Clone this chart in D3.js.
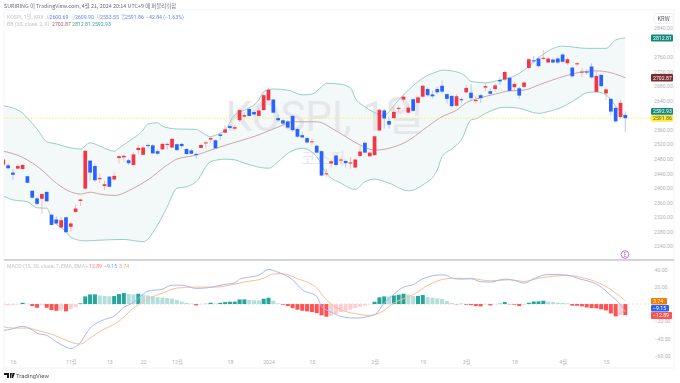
<!DOCTYPE html>
<html>
<head>
<meta charset="utf-8">
<script src="https://cdn.jsdelivr.net/npm/d3@7"></script>
<style>
  html, body { margin: 0; padding: 0; background: #fff; }
  svg { display: block; font-family: "Noto Sans CJK KR", "Noto Sans", sans-serif; filter: blur(0.3px); }
</style>
</head>
<body>
<div id="chart"></div>
<script>
const opens = [2464,2462,2442,2453,2452,2432,2392,2371,2370,2389,2326,2313,2291,2319,2293,2334,2364,2398,2475,2460,2424,2405,2431,2423,2482,2484,2476,2463,2504,2491,2518,2517,2501,2506,2519,2511,2520,2521,2507,2503,2493,2510,2524,2533,2531,2547,2552,
  2570,2563,2586,2596,2617,2609,2598,2614,2641,2643,2592,2586,2583,2598,2562,2545,2537,2526,2516,2501,2438,2467,2489,2476,2474,2467,2456,2488,2524,2487,2490,2558,2613,2584,2592,2619,2643,2607,2644,2634,2651,2672,2657,2672,2681,2658,2653,
  2626,2644,2663,2662,2639,2655,2676,2666,2672,2697,2698,2703,2677,2674,2678,2730,2751,2756,2756,2745,2753,2756,2767,2743,2731,2740,2718,2720,2734,2664,2711,2660,2645,2620,2595,2600.69];
const highs = [2478,2467,2453,2466,2466,2433,2393,2376,2386,2390,2328,2322,2319,2320,2307,2353,2369,2504,2476,2467,2440,2420,2432,2442,2490,2492,2481,2498,2518,2515,2522,2520,2506,2524,2525,2537,2522,2524,2509,2507,2499,2522,2529,2541,2533,2552,2572,
  2573,2573,2616,2609,2621,2614,2621,2660,2676,2645,2603,2589,2586,2600,2566,2554,2541,2536,2518,2503,2453,2478,2491,2484,2478,2485,2480,2515,2528,2500,2544,2617,2618,2596,2628,2625,2658,2632,2646,2651,2683,2676,2667,2678,2696,2660,2655,
  2658,2649,2683,2685,2653,2658,2688,2674,2688,2704,2722,2706,2692,2678,2694,2756,2763,2761,2779,2759,2756,2761,2770,2759,2734,2746,2729,2726,2743,2723,2713,2676,2647,2625,2642,2609.9];
const lows = [2464,2451,2421,2451,2450,2413,2370,2353,2328,2362,2297,2300,2289,2276,2279,2332,2350,2394,2420,2417,2412,2394,2402,2421,2467,2472,2463,2462,2493,2490,2509,2494,2491,2504,2504,2510,2502,2511,2492,2493,2481,2509,2511,2524,2508,2531,2550,
  2561,2559,2582,2594,2596,2600,2596,2612,2639,2605,2582,2574,2563,2554,2538,2536,2522,2518,2495,2432,2430,2456,2461,2465,2456,2453,2454,2486,2495,2485,2488,2556,2563,2563,2590,2609,2634,2605,2610,2632,2649,2651,2646,2658,2660,2632,2623,
  2623,2633,2660,2642,2633,2634,2667,2656,2665,2683,2695,2665,2665,2645,2674,2726,2743,2731,2752,2743,2743,2741,2745,2738,2704,2734,2706,2711,2701,2662,2678,2642,2600,2581,2591,2553.55];
const closes = [2478,2454,2436,2460,2463,2414,2373,2356,2383,2363,2298,2302,2311,2278,2302,2343,2368,2502,2442,2421,2427,2410,2403,2433,2487,2488,2468,2492,2510,2511,2516,2495,2494,2521,2521,2535,2504,2515,2493,2494,2492,2518,2525,2537,2509,2543,2561,
  2565,2567,2614,2600,2598,2602,2613,2655,2670,2607,2586,2577,2566,2559,2541,2539,2525,2528,2497,2434,2440,2473,2463,2478,2468,2470,2478,2500,2497,2497,2542,2615,2591,2574,2609,2620,2651,2621,2612,2649,2681,2655,2652,2663,2665,2645,2625,
  2652,2643,2675,2647,2642,2647,2680,2659,2682,2693,2719,2667,2686,2654,2690,2754,2748,2735,2758,2756,2745,2745,2747,2754,2707,2743,2720,2718,2704,2708,2680,2671,2610,2583,2634,2591.86];

const upperDays = [0,4,5,7,9,11,13,16,18,20,23,24,27,29,30,32,33,36,40,41,43,44,46,48,50,53,54,56,59,62,64,66,67,70,72,73,75,77,79,80,82,84,87,90,91,93,96,97,100,103,106,108,110,112,116,121,125,127,129];
const upperBand = [2626,2606,2592,2562,2527,2521,2513,2507,2524,2515,2501,2510,2537,2559,2576,2579,2570,2562,2561,2554,2541,2545,2559,2601,2614,2642,2665,2672,2669,2656,2658,2678,2688,2685,2675,2647,2623,2607,2598,2610,2642,2669,2702,2720,2724,2722,2706,2693,2689,2697,2708,2724,2747,2768,2790,2784,2784,2807,2812.81];
const lowerDays = [0,2,5,7,9,10,13,14,17,20,25,29,32,34,36,38,40,43,46,48,50,55,57,59,62,65,67,70,73,75,77,80,84,87,90,91,93,95,97,98,100,104,107,111,113,116,119,121,123,125,127,129];
const lowerBand = [2378,2367,2362,2345,2344,2317,2279,2264,2254,2256,2258,2252,2298,2348,2399,2403,2417,2472,2479,2477,2468,2454,2472,2495,2509,2486,2440,2413,2396,2417,2424,2413,2392,2408,2449,2486,2507,2532,2587,2590,2605,2622,2619,2605,2610,2623,2646,2662,2664,2656,2625,2592.93];
const basisDays = [0,4,8,11,14,16,18,20,23,27,30,34,36,40,43,46,53,58,60,65,69,74,77,80,84,87,91,94,96,99,102,105,108,111,116,120,123,126,129];
const basisBand = [2501,2484,2449,2413,2389,2383,2388,2383,2379,2399,2422,2463,2479,2490,2504,2517,2546,2573,2582,2582,2557,2518,2504,2509,2530,2559,2596,2614,2634,2648,2658,2667,2669,2683,2706,2719,2722,2717,2702.87];

const histValues = [-1.5,-1.5,-1.2,-0.5,1.5,0.3,-2.3,-4.3,-1.2,-4.3,-7,-7.8,-7.6,-8.5,-5.8,-3.5,0.8,8.9,11.2,11.3,10,9.3,9,9.3,11.6,12.8,11.6,11.2,12,10.9,10,9.3,8,7.4,7,6.2,4.7,3,1.5,0.4,-1.5,-0.4,0.3,1.5,0.6,1.5,2.3,
  2.7,2.8,5.4,5.5,4.7,4.3,4.2,6.2,7.4,3.9,0.8,-0.8,-2.3,-4.7,-6.6,-7.8,-8.5,-9.3,-10.5,-13.2,-14.7,-13.6,-11.6,-9.3,-7.8,-6.6,-4.7,-3.1,-1.9,-0.4,2.7,7.8,8.9,8.8,10,10.9,12,10.9,9.3,9.4,10.5,8,7.4,6.6,5.8,3.5,1.2,
  -0.4,0.3,-0.8,-1.2,-2.3,-2.7,-0.4,-1.5,-0.4,0.4,2.3,-0.4,-0.8,-2.3,-0.8,1.5,3,3.1,3.9,2.7,2.3,1.5,1.2,0.8,-1.9,-2,-2.7,-3.9,-4.7,-5,-6.2,-7.4,-10.9,-14.3,-12.8,-12.89];

const macdDays = [0,1,4,6,7,9,11,13,14,15,16,17,18,19,21,23,25,27,29,30,33,35,37,40,43,46,48,49,51,53,55,57,60,62,65,66,68,70,73,77,79,81,83,85,87,91,92,93,95,97,99,101,104,106,108,110,113,117,119,124,126,128,129];
const macdValues = [-30.6,-30,-26,-30,-34,-36.4,-44,-50,-52,-49.5,-45,-36,-28,-23.5,-18,-14,-4,2,11.6,15,17.4,22,22,18.2,19.4,23,24.4,29,31.4,33.7,40.3,37,28.3,16.7,8.9,-2.7,-9.3,-14.3,-16.3,-12.4,1.2,11.6,19.8,22.5,29.5,34,33.3,30.2,29,29.5,26,25.6,29,27.5,24.4,29.5,34.5,33.7,30.2,19.8,10,-0.8,-9.15];
const signalDays = [0,2,5,7,10,13,15,16,18,20,24,27,29,33,36,40,44,46,50,54,56,58,61,65,67,70,73,76,78,81,85,88,92,94,97,101,105,108,111,117,121,125,127,129];
const signalValues = [-26.4,-28,-28,-30.6,-35,-42,-46,-46.5,-39.5,-32,-20,-4.7,3,12.8,18.6,19.8,19.8,21,25.6,30,35,35.3,29.5,18.6,5,-6.6,-11.2,-13.2,-10.5,1.2,10.9,21.7,29.5,30,29.8,27,28.3,26.4,30,33.3,29.5,20.5,12.8,3.74];

const dateDays = [2,14,22,29,36,47,55,64,77,87,96,106,116,125];
const dateLabels = ["16","11월","13","22","12월","18","2024","15","2월","19","3월","18","4월","15"];
const priceTicks = [2840,2760,2720,2680,2640,2560,2520,2480,2440,2400,2360,2320,2280,2240];
const macdTicks = [40,20,-20,-40,-60];

const width = 680, height = 383;
const bullColor = "#f23645", bearColor = "#2962ff";
const upperColor = "#97cfc8", basisColor = "#c9a8a8";

const svg = d3
  .select("#chart")
  .append("svg")
  .attr("width", width)
  .attr("height", height);

const x = d3.scaleLinear().domain([0, 129]).range([3.3, 625.3]);
const y = d3.scaleLinear().domain([2240, 2840]).range([246, 28]);
const yMacd = d3.scaleLinear().domain([-60, 40]).range([355.6, 269.7]);
const candleW = 3.7;

// panel frame, clip keeps the first candle from spilling out on the left
svg
  .append("rect")
  .attr("x", 4)
  .attr("y", 10)
  .attr("width", 670)
  .attr("height", 358)
  .attr("fill", "#fff")
  .attr("stroke", "#f2f3f5");
svg
  .append("clipPath")
  .attr("id", "plot")
  .append("rect")
  .attr("x", 4)
  .attr("y", 10)
  .attr("width", 670)
  .attr("height", 358);

const plot = svg.append("g").attr("clip-path", "url(#plot)");

// bollinger fill between the bands, both sides read at their own days
const outline = upperDays
  .map((d, i) => [x(d), y(upperBand[i])])
  .concat(lowerDays.map((d, i) => [x(d), y(lowerBand[i])]).reverse());
plot
  .append("path")
  .attr("d", d3.line()(outline) + "Z")
  .attr("fill", "#f3f8f8");

// watermark sits over the fill, under the candles
plot
  .append("text")
  .attr("x", 325)
  .attr("y", 131)
  .attr("text-anchor", "middle")
  .attr("font-size", 42)
  .attr("font-family", "Roboto, 'Noto Sans CJK KR', sans-serif")
  .attr("fill", "#e6e7ea")
  .text("KOSPI, 1일");
plot
  .append("text")
  .attr("x", 323)
  .attr("y", 164)
  .attr("text-anchor", "middle")
  .attr("font-size", 16)
  .attr("fill", "#e6e7ea")
  .text("코스피");

const bandLine = function (days, values) {
  return d3
    .line()
    .x((d) => x(d))
    .y((d, i) => y(values[i]))
    .curve(d3.curveMonotoneX)(days);
};
plot
  .append("path")
  .attr("d", bandLine(upperDays, upperBand))
  .attr("fill", "none")
  .attr("stroke", upperColor);
plot
  .append("path")
  .attr("d", bandLine(lowerDays, lowerBand))
  .attr("fill", "none")
  .attr("stroke", upperColor);
plot
  .append("path")
  .attr("d", bandLine(basisDays, basisBand))
  .attr("fill", "none")
  .attr("stroke", basisColor);

// last price line
plot
  .append("line")
  .attr("x1", 4)
  .attr("x2", 651)
  .attr("y1", y(closes[129]))
  .attr("y2", y(closes[129]))
  .attr("stroke", "#f7ec6b")
  .attr("stroke-dasharray", "1.5,1.5");

// candles
const candles = plot
  .append("g")
  .selectAll("g")
  .data(d3.range(opens.length))
  .enter()
  .append("g");
candles
  .append("line")
  .attr("x1", (i) => x(i))
  .attr("x2", (i) => x(i))
  .attr("y1", (i) => y(highs[i]))
  .attr("y2", (i) => y(lows[i]))
  .attr("stroke", (i) => (closes[i] >= opens[i] ? "#f9b3b9" : "#aec4f8"))
  .attr("stroke-width", 0.9);
candles
  .append("rect")
  .attr("x", (i) => x(i) - candleW / 2)
  .attr("width", candleW)
  .attr("y", (i) => y(Math.max(opens[i], closes[i])))
  .attr("height", (i) => Math.max(1, Math.abs(y(opens[i]) - y(closes[i]))))
  .attr("fill", (i) => (closes[i] >= opens[i] ? bullColor : bearColor));

// earnings marker
plot
  .append("circle")
  .attr("cx", 625)
  .attr("cy", 254.5)
  .attr("r", 3.8)
  .attr("fill", "#fff")
  .attr("stroke", "#ba68c8")
  .attr("stroke-width", 0.9);
plot
  .append("text")
  .attr("x", 625)
  .attr("y", 256.5)
  .attr("text-anchor", "middle")
  .attr("font-size", 5.5)
  .attr("fill", "#ba68c8")
  .text("E");

// pane divider
plot
  .append("rect")
  .attr("x", 4)
  .attr("y", 259)
  .attr("width", 671)
  .attr("height", 1.8)
  .attr("fill", "#cfd0d4");

// macd pane
plot
  .append("line")
  .attr("x1", 4)
  .attr("x2", 651)
  .attr("y1", yMacd(0))
  .attr("y2", yMacd(0))
  .attr("stroke", "#d8dade")
  .attr("stroke-width", 0.7)
  .attr("stroke-dasharray", "2,2");

// tradingview colouring: shade follows the direction of the bar against the one before
const histColor = function (v, i) {
  const prev = i > 0 ? histValues[i - 1] : v;
  if (v >= 0) return v >= prev ? "#26a69a" : "#b2dfdb";
  return v < prev ? "#ff5252" : "#ffcdd2";
};
plot
  .append("g")
  .selectAll("rect")
  .data(histValues)
  .enter()
  .append("rect")
  .attr("x", (d, i) => x(i) - 2)
  .attr("width", 4)
  .attr("y", (d) => Math.min(yMacd(d), yMacd(0)))
  .attr("height", (d) => Math.abs(yMacd(d) - yMacd(0)))
  .attr("fill", histColor);

const macdLine = function (days, values) {
  return d3
    .line()
    .x((d) => x(d))
    .y((d, i) => yMacd(values[i]))
    .curve(d3.curveMonotoneX)(days);
};
plot
  .append("path")
  .attr("d", macdLine(signalDays, signalValues))
  .attr("fill", "none")
  .attr("stroke", "#fbbf90");
plot
  .append("path")
  .attr("d", macdLine(macdDays, macdValues))
  .attr("fill", "none")
  .attr("stroke", "#a6b8f6");

// axes
const axisStyle = function (g) {
  g.select(".domain").remove();
  g.selectAll(".tick line").remove();
  g.selectAll(".tick text")
    .attr("fill", "#b0b2b7")
    .attr("font-size", 5.2)
    .attr("font-family", "Roboto, 'Noto Sans CJK KR', sans-serif");
};
svg
  .append("g")
  .attr("transform", "translate(654,0)")
  .call(
    d3
      .axisRight(y)
      .tickValues(priceTicks)
      .tickFormat(d3.format(".2f"))
      .tickSize(0)
      .tickPadding(0),
  )
  .call(axisStyle);
svg
  .append("g")
  .attr("transform", "translate(654.5,0)")
  .call(
    d3
      .axisRight(yMacd)
      .tickValues(macdTicks)
      .tickFormat((d) => d3.format(".2f")(d).replace("-", "−"))
      .tickSize(0)
      .tickPadding(0),
  )
  .call(axisStyle);
svg
  .append("g")
  .attr("transform", "translate(0,357)")
  .call(
    d3
      .axisBottom(x)
      .tickValues(dateDays)
      .tickFormat((d, i) => dateLabels[i])
      .tickSize(0)
      .tickPadding(3),
  )
  .call(axisStyle);

// value tags on the right edge
const tag = function (label, top, w, h, bg, fg) {
  svg
    .append("rect")
    .attr("x", 651)
    .attr("y", top)
    .attr("width", w)
    .attr("height", h)
    .attr("rx", 1)
    .attr("fill", bg);
  svg
    .append("text")
    .attr("x", 653)
    .attr("y", top + h / 2 + 1.9)
    .attr("font-size", 5.2)
    .attr("font-family", "Roboto, sans-serif")
    .attr("fill", fg)
    .text(label);
};
tag("2812.81", 34.5, 22, 7, "#13897b", "#fff");
tag("2702.87", 74, 22, 7.4, "#7d2a2c", "#fff");
tag("2592.93", 108, 22, 6.8, "#13897b", "#fff");
tag("2591.86", 115, 22, 6.8, "#fdeb3d", "#5d5a20");
tag("3.74", 298, 16, 6.5, "#f57c00", "#fff");
tag("−9.15", 305, 18, 6.6, "#2962ff", "#fff");
tag("−12.89", 312, 21, 7, "#ff5252", "#fff");

// currency button
svg
  .append("rect")
  .attr("x", 654)
  .attr("y", 13.5)
  .attr("width", 19)
  .attr("height", 10)
  .attr("rx", 2)
  .attr("fill", "#fff")
  .attr("stroke", "#eeeff2");
svg
  .append("text")
  .attr("x", 663.5)
  .attr("y", 20.5)
  .attr("text-anchor", "middle")
  .attr("font-size", 5.6)
  .attr("fill", "#555")
  .text("KRW");

// header and legends
svg
  .append("text")
  .attr("x", 4)
  .attr("y", 8)
  .attr("font-size", 5.4)
  .attr("fill", "#6b6e76")
  .text("SURIRING 이 TradingView.com, 4월 21, 2024 20:14 UTC+9 에 퍼블리쉬함");

const legend = function (py, items) {
  const t = svg
    .append("text")
    .attr("y", py)
    .attr("font-size", 5.2)
    .attr("font-family", "Roboto, 'Noto Sans CJK KR', sans-serif");
  items.forEach(function (it) {
    t.append("tspan").attr("x", it[0]).attr("fill", it[2]).text(it[1]);
  });
};
const blue = "#5f86f5", grey = "#c2c4c8";
legend(18.5, [
  [7, "KOSPI, 1일, KRX", grey],
  [46, "시", grey],
  [49.5, "2600.69", blue],
  [71, "고", grey],
  [75, "2609.90", blue],
  [96, "저", grey],
  [100, "2553.55", blue],
  [121, "종", grey],
  [125, "2591.86", blue],
  [146, "−42.84 (−1.63%)", blue],
]);
legend(26, [
  [7, "BB (20, close, 2, 0)", grey],
  [52, "2702.87", "#a85a5a"],
  [72, "2812.81", "#3aa598"],
  [92, "2592.93", "#3aa598"],
]);
legend(268, [
  [7, "MACD (15, 30, close, 7, EMA, EMA)", grey],
  [86, "−12.89", "#ff7b7b"],
  [104, "−9.15", "#7f9cf5"],
  [119, "3.74", "#f9a55c"],
]);

// footer logo
svg
  .append("path")
  .attr("d", "M4 373h5v5h-2v-3h-3z M10 373h2l-1 5h-1z M12.5 373h2.5l-2 5h-1.5z")
  .attr("fill", "#1c1c1f");
svg
  .append("text")
  .attr("x", 16)
  .attr("y", 378)
  .attr("font-size", 6)
  .attr("font-family", "Roboto, sans-serif")
  .attr("fill", "#555")
  .text("TradingView");
</script>
</body>
</html>
